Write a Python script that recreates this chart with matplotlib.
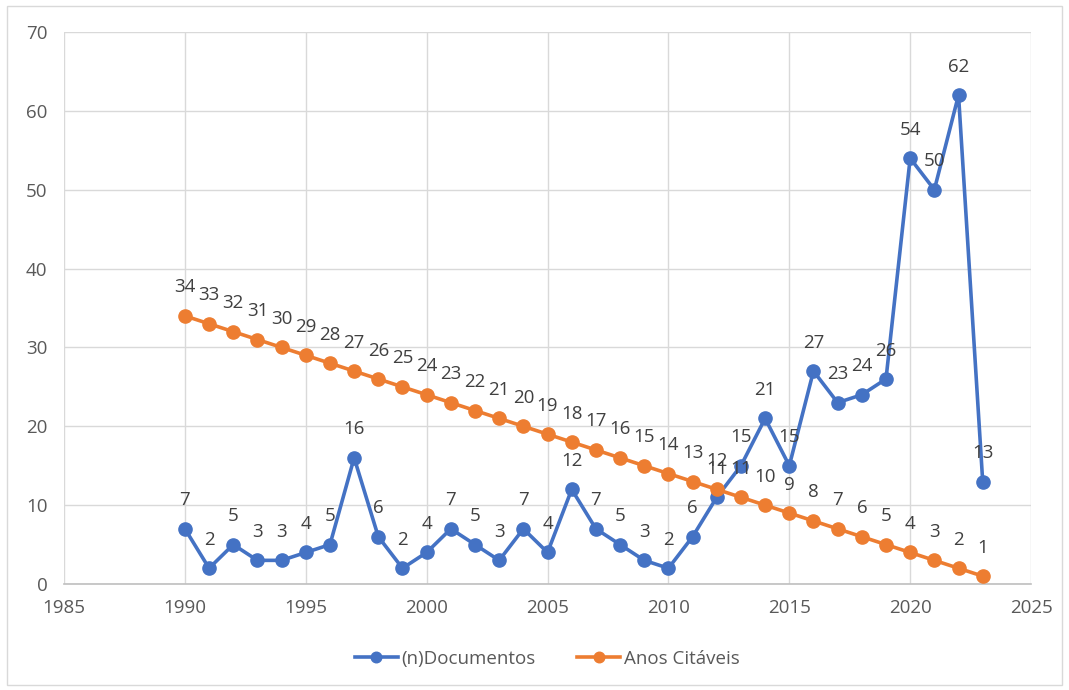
import matplotlib
matplotlib.use('Agg')
import matplotlib.pyplot as plt
from matplotlib.patches import Rectangle

plt.rcParams['font.family'] = ['Open Sans', 'DejaVu Sans']

anos = list(range(1990, 2024))
documentos = [7, 2, 5, 3, 3, 4, 5, 16, 6, 2, 4, 7, 5, 3, 7, 4, 12, 7, 5, 3, 2,
              6, 11, 15, 21, 15, 27, 23, 24, 26, 54, 50, 62, 13]
anos_citaveis = [34, 33, 32, 31, 30, 29, 28, 27, 26, 25, 24, 23, 22, 21, 20, 19, 18,
                 17, 16, 15, 14, 13, 12, 11, 10, 9, 8, 7, 6, 5, 4, 3, 2, 1]

azul = '#4472C4'
laranja = '#ED7D31'

fig = plt.figure(figsize=(10.69, 6.9), dpi=100)
ax = fig.add_axes([0.0599, 0.1536, 0.9046, 0.8000])

ax.plot(anos, documentos, color=azul, lw=2.6, marker='o', ms=9.5,
        label='(n)Documentos', zorder=3)
ax.plot(anos, anos_citaveis, color=laranja, lw=2.6, marker='o', ms=9.5,
        label='Anos Citáveis', zorder=3)

for x, y in zip(anos, documentos):
    ax.annotate(str(y), (x, y), xytext=(0, 20.5), textcoords='offset points',
                ha='center', va='center', fontsize=13.5, color='#404040', zorder=4)
for x, y in zip(anos, anos_citaveis):
    ax.annotate(str(y), (x, y), xytext=(0, 20.5), textcoords='offset points',
                ha='center', va='center', fontsize=13.5, color='#404040', zorder=4)

ax.set_xlim(1985, 2025)
ax.set_ylim(0, 70)
ax.set_xticks(range(1985, 2026, 5))
ax.set_yticks(range(0, 71, 10))
ax.grid(True, color='#D9D9D9', lw=1)
ax.set_axisbelow(True)
for s in ['top', 'right', 'left']:
    ax.spines[s].set_visible(False)
ax.spines['bottom'].set_color('#BFBFBF')
ax.spines['bottom'].set_linewidth(1.2)
ax.tick_params(axis='both', length=0, labelsize=13.5, labelcolor='#595959')
ax.tick_params(axis='x', pad=11)
ax.tick_params(axis='y', pad=12)

fig.legend(loc='center', bbox_to_anchor=(0.512, 0.045), ncol=2, frameon=False,
           fontsize=13.5, labelcolor='#595959', handlelength=2.3, columnspacing=2.2,
           handletextpad=0.2, markerscale=0.8)

fig.patches.append(Rectangle((0.007, 0.007), 0.986, 0.985, transform=fig.transFigure,
                             fill=False, edgecolor='#D9D9D9', lw=1))

fig.savefig('out.png', dpi=100)
